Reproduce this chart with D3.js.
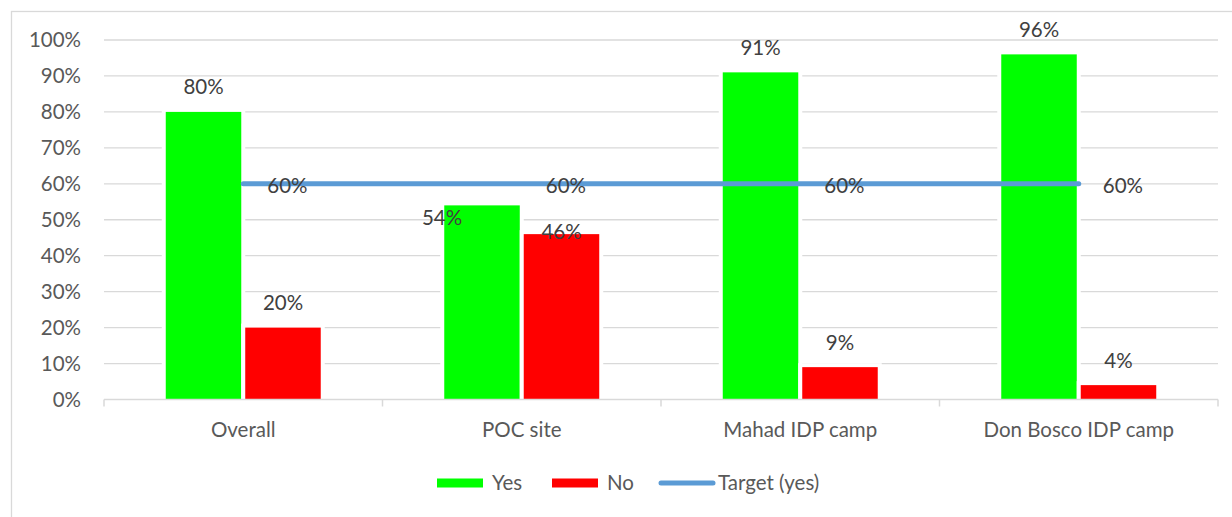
<!DOCTYPE html>
<html>
<head>
<meta charset="utf-8">
<script src="https://cdn.jsdelivr.net/npm/d3@7"></script>
<style>
	body { margin: 0; background: #fff; }
	svg text { font-family: Lato, "Open Sans", sans-serif; }
	.tick_label { fill: #595959; font-size: 20.5px; }
	.data_label { fill: #404040; font-size: 20.5px; }
</style>
</head>
<body>
<div id="chart" style="width:1232px;height:517px;"></div>
<script>
"use strict"

// values
const categories = ["Overall", "POC site", "Mahad IDP camp", "Don Bosco IDP camp"];
const yesValues = [0.80, 0.54, 0.91, 0.96];
const noValues = [0.20, 0.46, 0.09, 0.04];
const targetValues = [0.60, 0.60, 0.60, 0.60];
const yTicks = [0, 0.1, 0.2, 0.3, 0.4, 0.5, 0.6, 0.7, 0.8, 0.9, 1.0];
const seriesNames = ["Yes", "No", "Target (yes)"];

const colors = { "Yes": "#00ff00", "No": "#ff0000", "Target (yes)": "#5b9bd5" };

let svg = d3.select("#chart").append("svg")
	.attr("width", 1232)
	.attr("height", 517);

// chart area border
svg.append("rect")
	.attr("x", 11.5).attr("y", 11.5)
	.attr("width", 1240).attr("height", 540)
	.style("fill", "none")
	.style("stroke", "#d9d9d9")
	.style("stroke-width", 1.3);

let plot = { left: 104, right: 1218, top: 40, bottom: 399.5 };

let xScale = d3.scaleBand()
	.domain(categories)
	.range([plot.left, plot.right])
	.padding(0);

let xInner = d3.scaleBand()
	.domain(["Yes", "No"])
	.range([0, xScale.bandwidth()])
	.paddingInner(0.05)
	.paddingOuter(0.777);

let yScale = d3.scaleLinear()
	.domain([0, 1])
	.range([plot.bottom, plot.top]);

// gridlines
svg.append("g").attr("class", "grid").selectAll("line")
	.data(yTicks.slice(1))
	.enter().append("line")
		.attr("x1", plot.left).attr("x2", plot.right)
		.attr("y1", d => yScale(d)).attr("y2", d => yScale(d))
		.style("stroke", "#d9d9d9")
		.style("stroke-width", 1.3);

// y tick labels
svg.append("g").selectAll("text")
	.data(yTicks)
	.enter().append("text")
		.attr("class", "tick_label")
		.attr("x", 81)
		.attr("y", d => yScale(d))
		.attr("dy", "0.36em")
		.attr("text-anchor", "end")
		.text(d => d3.format(".0%")(d));

// bars
let rows = categories.map((c, i) => ({ cat: c, Yes: yesValues[i], No: noValues[i] }));

let barG = svg.append("g").attr("class", "bars");
["Yes", "No"].forEach(s => {
	barG.selectAll(".bar_" + s)
		.data(rows)
		.enter().append("rect")
			.attr("class", "bar_" + s)
			.attr("x", d => xScale(d.cat) + xInner(s))
			.attr("width", xInner.bandwidth())
			.attr("y", d => yScale(d[s]))
			.attr("height", d => yScale(0) - yScale(d[s]))
			.style("fill", colors[s])
			.style("stroke", "#fff")
			.style("stroke-width", 8)
			.style("paint-order", "stroke");
});

// x axis line + ticks
let axisG = svg.append("g").attr("class", "x_axis");
axisG.append("line")
	.attr("x1", plot.left).attr("x2", plot.right)
	.attr("y1", yScale(0)).attr("y2", yScale(0))
	.style("stroke", "#d9d9d9").style("stroke-width", 1.5);
axisG.selectAll(".xtick")
	.data(categories.map(c => xScale(c)).concat([plot.right]))
	.enter().append("line")
		.attr("x1", d => d).attr("x2", d => d)
		.attr("y1", yScale(0)).attr("y2", yScale(0) + 7)
		.style("stroke", "#d9d9d9").style("stroke-width", 1.5);
axisG.selectAll("text")
	.data(categories)
	.enter().append("text")
		.attr("class", "tick_label")
		.attr("x", d => xScale(d) + xScale.bandwidth() / 2)
		.attr("y", 437)
		.attr("text-anchor", "middle")
		.text(d => d);

// target line
let line = d3.line()
	.x((d, i) => xScale(categories[i]) + xScale.bandwidth() / 2)
	.y(d => yScale(d));

svg.append("path")
	.datum(targetValues)
	.attr("d", line)
	.style("fill", "none")
	.style("stroke", colors["Target (yes)"])
	.style("stroke-width", 5)
	.style("stroke-linecap", "round");

// data labels
let pct = d3.format(".0%");
// a couple of labels were dragged by hand in the original
let labelShift = { "POC site|Yes": [-40, 37], "POC site|No": [0, 22] };

let labelG = svg.append("g").attr("class", "labels");
["Yes", "No"].forEach(s => {
	labelG.selectAll(".lab_" + s)
		.data(rows)
		.enter().append("text")
			.attr("class", "data_label")
			.attr("text-anchor", "middle")
			.attr("x", d => xScale(d.cat) + xInner(s) + xInner.bandwidth() / 2 + (labelShift[d.cat + "|" + s] || [0, 0])[0])
			.attr("y", d => yScale(d[s]) - 25 + (labelShift[d.cat + "|" + s] || [0, 0])[1])
			.attr("dy", "0.36em")
			.text(d => pct(d[s]));
});

labelG.selectAll(".lab_target")
	.data(targetValues)
	.enter().append("text")
		.attr("class", "data_label")
		.attr("x", (d, i) => xScale(categories[i]) + xScale.bandwidth() / 2 + 24)
		.attr("y", d => yScale(d) + 2)
		.attr("dy", "0.36em")
		.text(d => pct(d));

// legend
let legendX = [437, 552, 659];
let legendY = 483;
let legend = svg.append("g").attr("class", "legend");
seriesNames.forEach((s, i) => {
	let g = legend.append("g").attr("transform", `translate(${legendX[i]},${legendY})`);
	if (s === "Target (yes)") {
		g.append("line")
			.attr("x1", 2).attr("x2", 54).attr("y1", 0).attr("y2", 0)
			.style("stroke", colors[s]).style("stroke-width", 5).style("stroke-linecap", "round");
		g.append("text").attr("class", "tick_label").attr("x", 59).attr("dy", "0.36em").text(s);
	} else {
		g.append("rect")
			.attr("x", 0).attr("y", -4.5).attr("width", 46).attr("height", 9)
			.style("fill", colors[s]);
		g.append("text").attr("class", "tick_label").attr("x", 55).attr("dy", "0.36em").text(s);
	}
});
</script>
</body>
</html>
